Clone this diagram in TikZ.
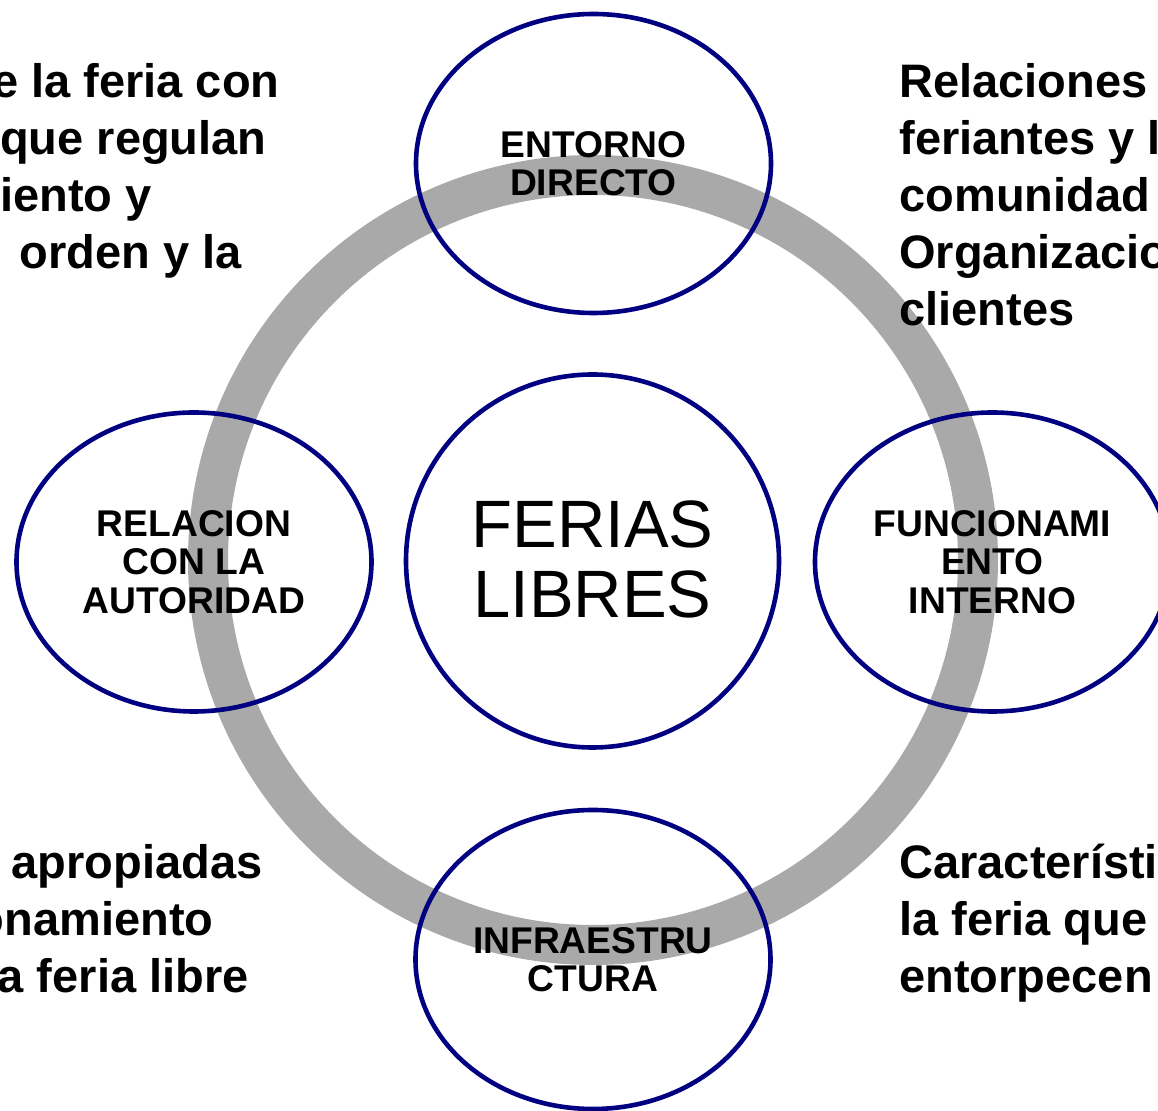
\documentclass[tikz,border=0pt]{standalone}
\usepackage{fontspec}
\setmainfont{Liberation Sans}
\usetikzlibrary{positioning, shapes.geometric}
\definecolor{ringgray}{RGB}{169,169,169}
\definecolor{navyline}{RGB}{0,0,128}

\begin{document}
\begin{tikzpicture}[
    x=0.5pt, y=-0.5pt,
    every node/.style={align=center, inner sep=0pt},
    topic/.style={draw=navyline, line width=2.3pt, ellipse, minimum width=177.5pt, minimum height=149.5pt, font=\fontsize{18.6}{19.25}\selectfont\bfseries},
    hub/.style={draw=navyline, line width=2.3pt, circle, minimum size=186.5pt, font=\fontsize{33.5}{35}\selectfont},
    note/.style={font=\fontsize{23.5}{28.5}\selectfont\bfseries},
    ring/.style={draw=ringgray, line width=20pt}
]
    \useasboundingbox (0,0) rectangle (1158,1111);
    \clip (0,0) rectangle (1158,1111);

    % gray ring behind everything
    \coordinate (mid) at (593,560);
    \draw [ring] (mid) circle [radius=192.5pt];

    % center and the four topics
    \node (hub) [hub] at (592.5,561) {\raisebox{1.5pt}{FERIAS}\\\raisebox{1.5pt}{LIBRES}};
    \node (entorno) [topic] at (593.5,163.5) {ENTORNO\\DIRECTO};
    \node (autoridad) [topic] at (194,562) {RELACION\\CON LA\\AUTORIDAD};
    \node (interno) [topic] at (992.5,562) {FUNCIONAMI\\ENTO\\INTERNO};
    \node (infra) [topic] at (593,959.5) {INFRAESTRU\\CTURA};

    % notes, cut by the page edge
    \node (tl1) [note, anchor=base east] at (280,98) {e la feria con};
    \node (tl2) [note, anchor=base east] at (267,155) {que regulan};
    \node (tl3) [note, anchor=base east] at (152,212) {iento y};
    \node (tl4) [note, anchor=base east] at (242,269) {orden y la};

    \node (tr1) [note, anchor=base west] at (899,98) {Relaciones};
    \node (tr2) [note, anchor=base west] at (899,155) {feriantes y l};
    \node (tr3) [note, anchor=base west] at (899,212) {comunidad};
    \node (tr4) [note, anchor=base west] at (899,269) {Organizacio};
    \node (tr5) [note, anchor=base west] at (899,326) {clientes};

    \node (bl1) [note, anchor=base east] at (263,879) {apropiadas};
    \node (bl2) [note, anchor=base east] at (214,936) {onamiento};
    \node (bl3) [note, anchor=base east] at (249,993) {a feria libre};

    \node (br1) [note, anchor=base west] at (899,879) {Característi};
    \node (br2) [note, anchor=base west] at (899,936) {la feria que};
    \node (br3) [note, anchor=base west] at (899,993) {entorpecen};
\end{tikzpicture}
\end{document}
